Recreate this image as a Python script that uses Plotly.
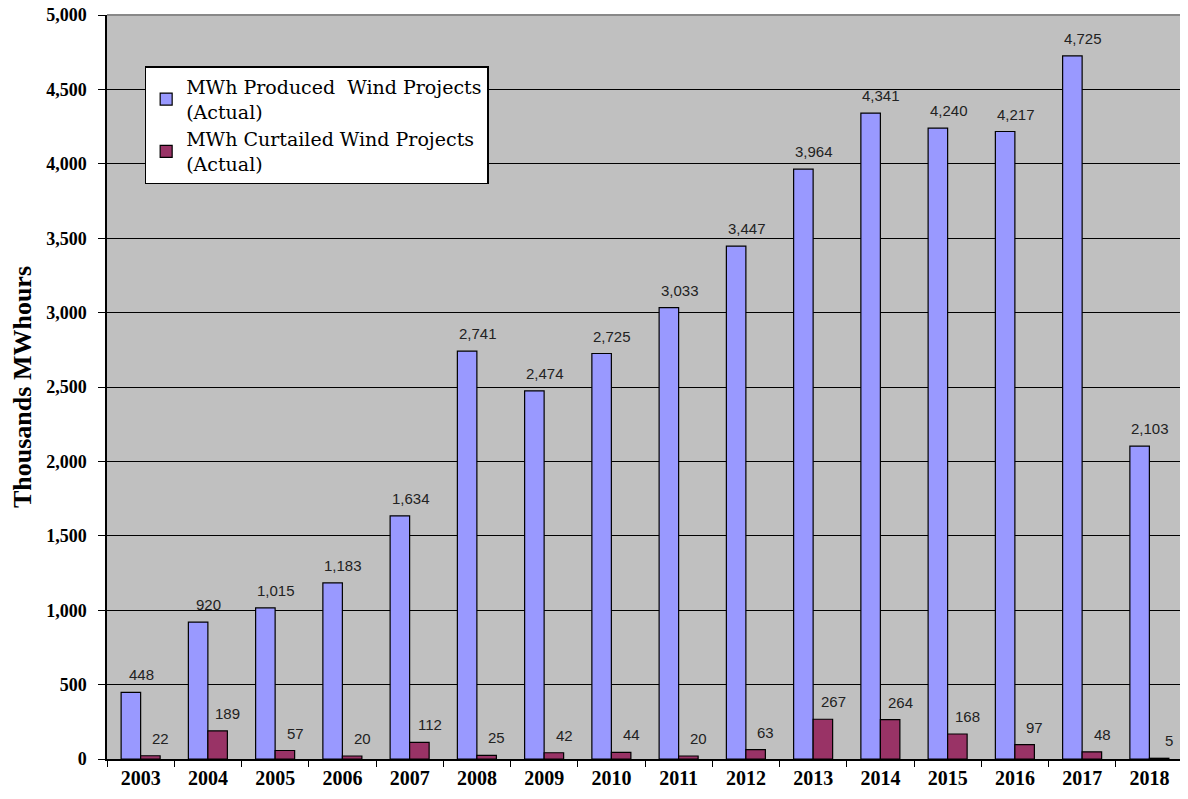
import plotly.graph_objects as go

years = ["2003", "2004", "2005", "2006", "2007", "2008", "2009", "2010",
         "2011", "2012", "2013", "2014", "2015", "2016", "2017", "2018"]
produced = [448, 920, 1015, 1183, 1634, 2741, 2474, 2725,
            3033, 3447, 3964, 4341, 4240, 4217, 4725, 2103]
curtailed = [22, 189, 57, 20, 112, 25, 42, 44,
             20, 63, 267, 264, 168, 97, 48, 5]

serif = "Liberation Serif"

fig = go.Figure()
fig.add_trace(go.Bar(x=years, y=produced,
                     name="MWh Produced  Wind Projects<br>(Actual)",
                     marker=dict(color="#9999FF", line=dict(color="black", width=1.2))))
fig.add_trace(go.Bar(x=years, y=curtailed,
                     name="MWh Curtailed Wind Projects<br>(Actual)",
                     marker=dict(color="#993366", line=dict(color="black", width=1.2))))

# value labels, shifted right like the original
# (x given as category index, numeric-looking names get misread otherwise)
for i in range(len(years)):
    fig.add_annotation(x=i, y=produced[i], text=f"{produced[i]:,}", showarrow=False,
                       xshift=1, yshift=7, yanchor="bottom",
                       font=dict(family="Arial", size=15, color="#222"))
    fig.add_annotation(x=i, y=curtailed[i], text=f"{curtailed[i]:,}", showarrow=False,
                       xshift=20, yshift=7, yanchor="bottom",
                       font=dict(family="Arial", size=15, color="#222"))

# grey top border of the plot area
fig.add_shape(type="line", xref="paper", yref="paper", x0=0, x1=1, y0=1, y1=1,
              line=dict(color="#888888", width=2))

# page body has an 8px margin, so the figure is a bit smaller than the window
fig.update_layout(
    width=1180, height=791,
    margin=dict(l=99, r=5, t=7, b=40),
    barmode="group", bargap=0.42, bargroupgap=0,
    plot_bgcolor="#C0C0C0", paper_bgcolor="white",
    showlegend=True,
    legend=dict(x=0.035, y=0.931, xanchor="left", yanchor="top",
                bgcolor="white", bordercolor="black", borderwidth=1.5,
                font=dict(family="DejaVu Serif", size=19, color="black"),
                tracegroupgap=14),
    xaxis=dict(type="category", range=[-0.5, len(years) - 0.5],
               tickson="boundaries", ticks="outside", ticklen=6,
               tickcolor="black", showline=True, linecolor="black", linewidth=1.5,
               tickfont=dict(family=serif, size=20, color="black", weight="bold")),
    yaxis=dict(range=[0, 5000], dtick=500, tickformat=",", automargin=False,
               ticks="outside", ticklen=7, tickcolor="black",
               showline=True, linecolor="black", linewidth=1.5,
               gridcolor="black", gridwidth=1, zeroline=False,
               ticklabelstandoff=8, ticklabeloverflow="allow",
               tickfont=dict(family=serif, size=18, color="black", weight="bold"),
               title=dict(text="Thousands MWhours", standoff=10,
                          font=dict(family=serif, size=26, color="black", weight="bold"))),
)

fig.write_html("out.html")
